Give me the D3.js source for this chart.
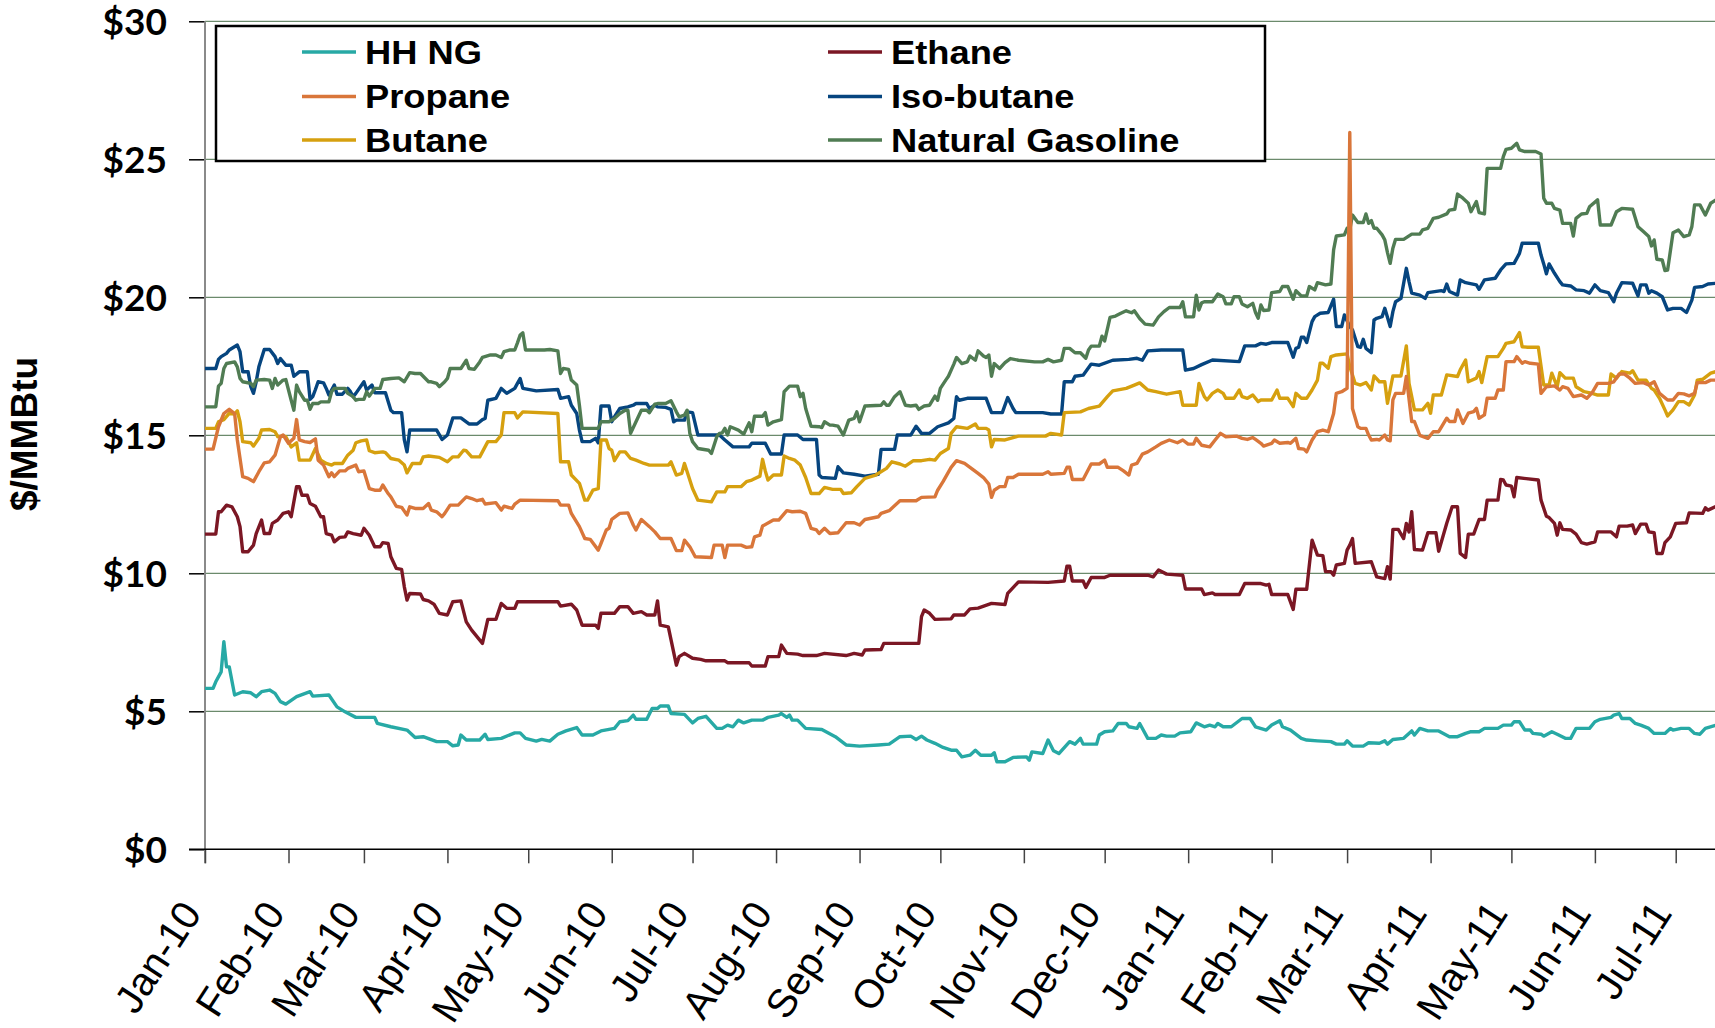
<!DOCTYPE html>
<html lang="en">
<head>
    <meta charset="UTF-8">
    <title>NGL and Henry Hub prices</title>
    <script src="https://d3js.org/d3.v7.min.js"></script>
    <style>
        html, body { margin: 0; padding: 0; background: #ffffff; }
        svg { display: block; }
        .ytick text { font-family: Lato, "Open Sans", sans-serif; font-weight: 700; font-size: 37px; fill: #000; }
        .xtick text { font-family: "Liberation Sans", Arial, sans-serif; font-size: 40px; fill: #000; }
        .legend text { font-family: "Liberation Sans", Arial, sans-serif; font-weight: 700; font-size: 33px; fill: #000; }
        .ytitle { font-family: "Liberation Sans", Arial, sans-serif; font-weight: 700; font-size: 37px; }
    </style>
</head>
<body>
<svg id="chart" width="1715" height="1028"></svg>
<script>
    // series names / colours (legend order, row by row)
    var seriesNames = ["HH NG", "Ethane", "Propane", "Iso-butane", "Butane", "Natural Gasoline"];
    var seriesColors = ["#27A9A5", "#7B1724", "#D9763A", "#06457F", "#D6A00F", "#507C53"];
    var yTicks = [0, 5, 10, 15, 20, 25, 30];

    // daily prices, $/MMBtu
    var hhng = [["2010-01-01",5.83],["2010-01-04",5.83],["2010-01-05",6.07],["2010-01-07",6.43],["2010-01-08",7.52],["2010-01-09",6.61],["2010-01-10",6.61],["2010-01-12",5.59],["2010-01-15",5.71],["2010-01-18",5.67],["2010-01-20",5.53],["2010-01-22",5.71],["2010-01-25",5.77],["2010-01-27",5.65],["2010-01-29",5.35],["2010-01-31",5.26],["2010-02-04",5.53],["2010-02-09",5.71],["2010-02-10",5.55],["2010-02-16",5.59],["2010-02-19",5.16],["2010-02-22",4.98],["2010-02-26",4.78],["2010-03-05",4.78],["2010-03-06",4.56],["2010-03-11",4.44],["2010-03-17",4.32],["2010-03-20",4.05],["2010-03-23",4.08],["2010-03-28",3.90],["2010-04-01",3.90],["2010-04-03",3.75],["2010-04-05",3.78],["2010-04-06",4.14],["2010-04-08",3.96],["2010-04-13",3.96],["2010-04-15",4.17],["2010-04-16",3.98],["2010-04-21",4.02],["2010-04-26",4.22],["2010-04-28",4.22],["2010-04-30",4.02],["2010-05-04",3.92],["2010-05-06",3.98],["2010-05-09",3.92],["2010-05-12",4.17],["2010-05-15",4.29],["2010-05-19",4.41],["2010-05-21",4.14],["2010-05-25",4.14],["2010-05-28",4.29],["2010-06-02",4.38],["2010-06-04",4.62],["2010-06-07",4.66],["2010-06-09",4.86],["2010-06-10",4.71],["2010-06-14",4.71],["2010-06-16",5.10],["2010-06-18",5.10],["2010-06-19",5.19],["2010-06-22",5.19],["2010-06-23",4.92],["2010-06-28",4.89],["2010-07-01",4.58],["2010-07-03",4.74],["2010-07-06",4.82],["2010-07-10",4.38],["2010-07-12",4.38],["2010-07-14",4.50],["2010-07-16",4.44],["2010-07-18",4.68],["2010-07-20",4.58],["2010-07-23",4.68],["2010-07-27",4.68],["2010-07-29",4.78],["2010-08-02",4.86],["2010-08-03",4.92],["2010-08-05",4.78],["2010-08-06",4.86],["2010-08-07",4.68],["2010-08-09",4.68],["2010-08-12",4.38],["2010-08-18",4.34],["2010-08-23",4.08],["2010-08-27",3.78],["2010-09-01",3.74],["2010-09-08",3.78],["2010-09-12",3.81],["2010-09-16",4.08],["2010-09-20",4.10],["2010-09-22",3.98],["2010-09-24",4.10],["2010-09-26",3.96],["2010-09-29",3.84],["2010-10-02",3.69],["2010-10-05",3.59],["2010-10-07",3.59],["2010-10-09",3.35],["2010-10-12",3.41],["2010-10-14",3.59],["2010-10-16",3.41],["2010-10-20",3.41],["2010-10-21",3.50],["2010-10-22",3.17],["2010-10-25",3.17],["2010-10-28",3.33],["2010-11-02",3.35],["2010-11-03",3.23],["2010-11-04",3.53],["2010-11-08",3.47],["2010-11-10",3.96],["2010-11-12",3.57],["2010-11-14",3.47],["2010-11-18",3.90],["2010-11-20",3.81],["2010-11-22",4.02],["2010-11-23",3.81],["2010-11-28",3.81],["2010-11-29",4.14],["2010-12-01",4.26],["2010-12-04",4.29],["2010-12-06",4.56],["2010-12-09",4.56],["2010-12-10",4.44],["2010-12-13",4.38],["2010-12-14",4.56],["2010-12-17",4.02],["2010-12-20",4.02],["2010-12-22",4.14],["2010-12-24",4.10],["2010-12-27",4.10],["2010-12-29",4.22],["2011-01-02",4.26],["2011-01-04",4.58],["2011-01-07",4.44],["2011-01-09",4.50],["2011-01-11",4.44],["2011-01-12",4.56],["2011-01-14",4.44],["2011-01-17",4.44],["2011-01-21",4.74],["2011-01-24",4.74],["2011-01-26",4.44],["2011-01-30",4.32],["2011-02-01",4.50],["2011-02-04",4.66],["2011-02-05",4.44],["2011-02-08",4.32],["2011-02-12",4.02],["2011-02-14",3.96],["2011-02-18",3.93],["2011-02-23",3.90],["2011-02-25",3.81],["2011-02-28",3.81],["2011-03-01",3.93],["2011-03-03",3.74],["2011-03-07",3.74],["2011-03-09",3.86],["2011-03-13",3.84],["2011-03-15",3.93],["2011-03-16",3.81],["2011-03-18",3.98],["2011-03-22",4.02],["2011-03-25",4.29],["2011-03-26",4.14],["2011-03-28",4.38],["2011-03-31",4.29],["2011-04-04",4.29],["2011-04-08",4.08],["2011-04-11",4.08],["2011-04-14",4.20],["2011-04-16",4.26],["2011-04-19",4.26],["2011-04-21",4.38],["2011-04-26",4.38],["2011-04-28",4.50],["2011-05-01",4.50],["2011-05-02",4.62],["2011-05-04",4.62],["2011-05-06",4.32],["2011-05-08",4.32],["2011-05-09",4.20],["2011-05-12",4.17],["2011-05-13",4.10],["2011-05-16",4.26],["2011-05-18",4.17],["2011-05-21",4.02],["2011-05-23",4.02],["2011-05-25",4.38],["2011-05-30",4.38],["2011-06-01",4.62],["2011-06-03",4.71],["2011-06-07",4.78],["2011-06-08",4.86],["2011-06-10",4.92],["2011-06-11",4.74],["2011-06-14",4.74],["2011-06-16",4.56],["2011-06-18",4.50],["2011-06-21",4.38],["2011-06-23",4.20],["2011-06-27",4.20],["2011-06-29",4.38],["2011-06-30",4.32],["2011-07-03",4.38],["2011-07-06",4.38],["2011-07-08",4.20],["2011-07-10",4.17],["2011-07-12",4.38],["2011-07-16",4.50]];

    var ethane = [["2010-01-01",11.42],["2010-01-05",11.42],["2010-01-06",12.23],["2010-01-07",12.23],["2010-01-09",12.47],["2010-01-11",12.41],["2010-01-13",12.05],["2010-01-14",11.69],["2010-01-15",10.78],["2010-01-17",10.78],["2010-01-19",11.02],["2010-01-20",11.44],["2010-01-22",11.93],["2010-01-23",11.44],["2010-01-25",11.44],["2010-01-26",11.81],["2010-01-28",11.93],["2010-01-30",12.17],["2010-02-01",12.23],["2010-02-02",12.05],["2010-02-04",13.14],["2010-02-05",13.14],["2010-02-06",12.83],["2010-02-08",12.83],["2010-02-09",12.53],["2010-02-11",12.43],["2010-02-13",12.05],["2010-02-14",12.05],["2010-02-15",11.44],["2010-02-17",11.38],["2010-02-18",11.14],["2010-02-20",11.30],["2010-02-22",11.32],["2010-02-23",11.50],["2010-02-25",11.44],["2010-02-28",11.38],["2010-03-01",11.63],["2010-03-03",11.38],["2010-03-05",10.96],["2010-03-07",10.96],["2010-03-08",11.11],["2010-03-10",11.08],["2010-03-11",10.60],["2010-03-13",10.18],["2010-03-15",10.14],["2010-03-16",9.51],["2010-03-17",9.03],["2010-03-18",9.27],["2010-03-22",9.25],["2010-03-23",9.05],["2010-03-25",9.00],["2010-03-27",8.88],["2010-03-29",8.55],["2010-04-01",8.49],["2010-04-03",8.97],["2010-04-06",9.00],["2010-04-08",8.24],["2010-04-10",7.94],["2010-04-14",7.46],["2010-04-16",8.33],["2010-04-19",8.33],["2010-04-21",8.91],["2010-04-23",8.73],["2010-04-26",8.73],["2010-04-27",8.97],["2010-05-12",8.97],["2010-05-13",8.81],["2010-05-17",8.88],["2010-05-19",8.67],["2010-05-21",8.12],["2010-05-26",8.12],["2010-05-27",8.00],["2010-05-28",8.55],["2010-06-02",8.55],["2010-06-04",8.79],["2010-06-07",8.79],["2010-06-09",8.55],["2010-06-12",8.61],["2010-06-14",8.49],["2010-06-17",8.49],["2010-06-18",9.00],["2010-06-19",8.12],["2010-06-22",8.06],["2010-06-25",6.67],["2010-06-26",6.98],["2010-06-28",7.10],["2010-07-01",6.92],["2010-07-04",6.88],["2010-07-06",6.83],["2010-07-13",6.83],["2010-07-14",6.76],["2010-07-22",6.76],["2010-07-23",6.64],["2010-07-28",6.64],["2010-07-29",6.98],["2010-08-02",6.98],["2010-08-03",7.40],["2010-08-05",7.10],["2010-08-09",7.07],["2010-08-11",7.02],["2010-08-16",7.02],["2010-08-19",7.10],["2010-08-27",7.02],["2010-08-30",7.10],["2010-09-02",7.04],["2010-09-03",7.22],["2010-09-09",7.24],["2010-09-10",7.46],["2010-09-23",7.46],["2010-09-24",8.43],["2010-09-25",8.67],["2010-09-27",8.55],["2010-09-29",8.33],["2010-10-05",8.35],["2010-10-06",8.49],["2010-10-10",8.49],["2010-10-12",8.71],["2010-10-15",8.74],["2010-10-20",8.91],["2010-10-25",8.87],["2010-10-26",9.27],["2010-10-30",9.69],["2010-11-10",9.67],["2010-11-16",9.72],["2010-11-17",10.26],["2010-11-18",10.26],["2010-11-19",9.72],["2010-11-23",9.72],["2010-11-24",9.49],["2010-11-26",9.85],["2010-12-01",9.85],["2010-12-03",9.93],["2010-12-17",9.93],["2010-12-19",9.87],["2010-12-21",10.12],["2010-12-24",9.97],["2010-12-30",9.93],["2010-12-31",9.43],["2011-01-06",9.43],["2011-01-07",9.23],["2011-01-10",9.29],["2011-01-11",9.23],["2011-01-20",9.23],["2011-01-22",9.63],["2011-01-28",9.63],["2011-01-30",9.57],["2011-01-31",9.60],["2011-02-01",9.23],["2011-02-07",9.23],["2011-02-09",8.69],["2011-02-10",9.42],["2011-02-14",9.42],["2011-02-16",11.20],["2011-02-18",10.66],["2011-02-20",10.64],["2011-02-21",10.06],["2011-02-23",10.06],["2011-02-24",9.93],["2011-02-25",10.30],["2011-02-28",10.36],["2011-03-01",10.84],["2011-03-02",11.02],["2011-03-03",11.26],["2011-03-04",10.36],["2011-03-10",10.42],["2011-03-12",9.87],["2011-03-15",9.81],["2011-03-16",10.24],["2011-03-17",9.79],["2011-03-18",11.59],["2011-03-20",11.59],["2011-03-22",11.26],["2011-03-23",11.81],["2011-03-24",11.50],["2011-03-25",12.23],["2011-03-26",10.86],["2011-03-29",10.84],["2011-03-31",11.47],["2011-04-03",11.47],["2011-04-04",10.80],["2011-04-07",11.81],["2011-04-09",12.41],["2011-04-11",12.41],["2011-04-12",10.72],["2011-04-14",10.57],["2011-04-15",11.42],["2011-04-17",11.42],["2011-04-19",11.95],["2011-04-21",11.95],["2011-04-22",12.65],["2011-04-26",12.65],["2011-04-27",13.40],["2011-04-28",13.38],["2011-04-29",13.20],["2011-05-01",13.16],["2011-05-02",12.77],["2011-05-03",13.47],["2011-05-11",13.38],["2011-05-12",12.65],["2011-05-14",12.07],["2011-05-15",12.02],["2011-05-17",11.81],["2011-05-18",11.38],["2011-05-19",11.83],["2011-05-20",11.59],["2011-05-23",11.57],["2011-05-25",11.42],["2011-05-27",11.11],["2011-05-29",11.06],["2011-06-01",11.14],["2011-06-02",11.50],["2011-06-07",11.50],["2011-06-09",11.32],["2011-06-10",11.71],["2011-06-13",11.71],["2011-06-15",11.75],["2011-06-16",11.44],["2011-06-18",11.78],["2011-06-20",11.78],["2011-06-21",11.50],["2011-06-23",11.47],["2011-06-24",10.72],["2011-06-26",10.72],["2011-06-27",11.11],["2011-06-29",11.32],["2011-07-01",11.81],["2011-07-05",11.83],["2011-07-06",12.19],["2011-07-11",12.17],["2011-07-12",12.37],["2011-07-13",12.29],["2011-07-16",12.43]];

    var propane = [["2010-01-01",14.50],["2010-01-04",14.50],["2010-01-06",15.31],["2010-01-08",15.79],["2010-01-10",15.94],["2010-01-12",15.79],["2010-01-13",14.83],["2010-01-15",13.50],["2010-01-17",13.44],["2010-01-18",13.38],["2010-01-19",13.32],["2010-01-21",13.68],["2010-01-23",14.00],["2010-01-25",14.04],["2010-01-27",14.28],["2010-01-29",14.95],["2010-01-30",15.01],["2010-02-01",14.71],["2010-02-03",14.89],["2010-02-04",15.57],["2010-02-05",14.83],["2010-02-07",14.77],["2010-02-09",14.74],["2010-02-11",14.87],["2010-02-12",14.10],["2010-02-14",13.92],["2010-02-16",13.50],["2010-02-17",13.64],["2010-02-18",13.50],["2010-02-20",13.71],["2010-02-22",13.71],["2010-02-23",13.80],["2010-02-26",13.92],["2010-02-27",13.68],["2010-03-01",13.71],["2010-03-03",13.07],["2010-03-05",13.01],["2010-03-07",13.01],["2010-03-08",13.20],["2010-03-10",12.89],["2010-03-11",12.77],["2010-03-13",12.43],["2010-03-15",12.39],["2010-03-17",12.11],["2010-03-18",12.41],["2010-03-20",12.35],["2010-03-23",12.35],["2010-03-25",12.53],["2010-03-26",12.29],["2010-03-28",12.23],["2010-03-30",12.05],["2010-03-31",12.17],["2010-04-02",12.47],["2010-04-05",12.47],["2010-04-08",12.77],["2010-04-10",12.71],["2010-04-12",12.63],["2010-04-14",12.68],["2010-04-15",12.51],["2010-04-19",12.56],["2010-04-21",12.29],["2010-04-22",12.43],["2010-04-25",12.35],["2010-04-26",12.51],["2010-04-28",12.65],["2010-05-12",12.63],["2010-05-13",12.47],["2010-05-16",12.47],["2010-05-17",12.17],["2010-05-20",11.69],["2010-05-22",11.26],["2010-05-24",11.23],["2010-05-27",10.84],["2010-05-28",11.08],["2010-05-30",11.57],["2010-05-31",11.63],["2010-06-01",11.95],["2010-06-04",12.17],["2010-06-07",12.19],["2010-06-09",11.75],["2010-06-10",11.57],["2010-06-12",11.95],["2010-06-15",11.69],["2010-06-17",11.50],["2010-06-19",11.26],["2010-06-23",11.26],["2010-06-25",10.82],["2010-06-27",10.82],["2010-06-28",11.20],["2010-06-30",10.96],["2010-07-02",10.60],["2010-07-08",10.57],["2010-07-09",11.02],["2010-07-12",11.02],["2010-07-13",10.57],["2010-07-14",11.02],["2010-07-19",11.02],["2010-07-21",10.94],["2010-07-23",10.96],["2010-07-24",11.32],["2010-07-26",11.38],["2010-07-27",11.71],["2010-07-31",11.93],["2010-08-02",11.93],["2010-08-05",12.27],["2010-08-07",12.23],["2010-08-10",12.25],["2010-08-12",12.17],["2010-08-14",11.63],["2010-08-16",11.57],["2010-08-17",11.44],["2010-08-19",11.63],["2010-08-21",11.44],["2010-08-24",11.47],["2010-08-27",11.83],["2010-08-30",11.83],["2010-09-01",11.75],["2010-09-03",11.95],["2010-09-08",12.05],["2010-09-09",12.17],["2010-09-12",12.27],["2010-09-16",12.63],["2010-09-22",12.63],["2010-09-24",12.75],["2010-09-29",12.77],["2010-09-30",13.01],["2010-10-02",13.32],["2010-10-05",13.84],["2010-10-07",14.08],["2010-10-10",13.98],["2010-10-12",13.84],["2010-10-15",13.62],["2010-10-17",13.47],["2010-10-19",13.23],["2010-10-20",12.75],["2010-10-21",13.01],["2010-10-23",13.14],["2010-10-25",13.14],["2010-10-26",13.47],["2010-10-28",13.47],["2010-10-30",13.59],["2010-11-08",13.59],["2010-11-10",13.68],["2010-11-11",13.59],["2010-11-16",13.62],["2010-11-17",13.84],["2010-11-18",13.84],["2010-11-19",13.40],["2010-11-23",13.40],["2010-11-26",13.96],["2010-11-29",13.96],["2010-12-01",14.10],["2010-12-02",13.84],["2010-12-06",13.84],["2010-12-08",13.71],["2010-12-10",13.56],["2010-12-11",13.92],["2010-12-13",13.98],["2010-12-15",14.32],["2010-12-17",14.40],["2010-12-20",14.58],["2010-12-22",14.71],["2010-12-25",14.83],["2010-12-28",14.73],["2010-12-30",14.83],["2011-01-01",14.68],["2011-01-03",14.68],["2011-01-04",14.89],["2011-01-06",14.64],["2011-01-09",14.58],["2011-01-11",14.83],["2011-01-13",15.07],["2011-01-15",14.95],["2011-01-19",14.97],["2011-01-21",14.89],["2011-01-23",14.85],["2011-01-25",14.92],["2011-01-26",14.85],["2011-01-28",14.71],["2011-01-29",14.61],["2011-02-01",14.71],["2011-02-02",14.83],["2011-02-04",14.71],["2011-02-07",14.74],["2011-02-08",14.71],["2011-02-10",14.89],["2011-02-11",14.52],["2011-02-13",14.50],["2011-02-14",14.40],["2011-02-16",14.83],["2011-02-18",15.13],["2011-02-20",15.19],["2011-02-22",15.13],["2011-02-24",15.79],["2011-02-25",16.52],["2011-02-27",16.58],["2011-02-28",16.64],["2011-03-01",16.70],["2011-03-02",25.97],["2011-03-03",15.97],["2011-03-05",15.31],["2011-03-06",15.25],["2011-03-08",15.25],["2011-03-09",15.01],["2011-03-10",14.83],["2011-03-12",14.85],["2011-03-13",14.83],["2011-03-15",15.01],["2011-03-16",14.83],["2011-03-17",14.80],["2011-03-18",16.28],["2011-03-19",16.52],["2011-03-22",16.52],["2011-03-23",17.13],["2011-03-25",15.50],["2011-03-26",15.50],["2011-03-28",15.00],["2011-03-31",14.89],["2011-04-02",15.13],["2011-04-04",15.13],["2011-04-07",15.62],["2011-04-08",15.50],["2011-04-10",15.50],["2011-04-11",15.92],["2011-04-13",15.43],["2011-04-15",15.80],["2011-04-17",15.86],["2011-04-18",15.98],["2011-04-19",15.62],["2011-04-21",15.74],["2011-04-22",16.34],["2011-04-25",16.34],["2011-04-26",16.64],["2011-04-28",16.64],["2011-04-29",17.67],["2011-05-02",17.67],["2011-05-03",17.85],["2011-05-05",17.61],["2011-05-06",17.67],["2011-05-08",17.61],["2011-05-11",17.58],["2011-05-12",16.52],["2011-05-14",16.76],["2011-05-17",16.79],["2011-05-19",16.64],["2011-05-20",16.76],["2011-05-22",16.70],["2011-05-24",16.40],["2011-05-27",16.46],["2011-05-29",16.34],["2011-05-31",16.55],["2011-06-02",16.88],["2011-06-06",16.88],["2011-06-08",16.94],["2011-06-10",17.22],["2011-06-12",17.22],["2011-06-14",17.07],["2011-06-16",16.88],["2011-06-19",16.91],["2011-06-21",16.82],["2011-06-23",16.94],["2011-06-25",16.52],["2011-06-28",16.28],["2011-06-30",16.28],["2011-07-02",16.52],["2011-07-04",16.50],["2011-07-06",16.43],["2011-07-08",16.52],["2011-07-09",16.91],["2011-07-12",16.91],["2011-07-14",17.00],["2011-07-16",17.00]];

    var isobutane = [["2010-01-01",17.42],["2010-01-05",17.42],["2010-01-06",17.75],["2010-01-07",17.85],["2010-01-09",17.97],["2010-01-10",18.09],["2010-01-13",18.27],["2010-01-14",18.03],["2010-01-15",17.30],["2010-01-17",17.30],["2010-01-18",16.76],["2010-01-19",16.52],["2010-01-20",16.94],["2010-01-21",17.48],["2010-01-23",18.11],["2010-01-25",18.11],["2010-01-27",17.85],["2010-01-28",17.60],["2010-01-29",17.78],["2010-01-31",17.54],["2010-02-02",17.54],["2010-02-03",17.14],["2010-02-05",17.30],["2010-02-08",17.30],["2010-02-09",16.30],["2010-02-10",16.40],["2010-02-11",16.66],["2010-02-12",16.94],["2010-02-14",16.90],["2010-02-15",16.70],["2010-02-16",16.46],["2010-02-18",16.82],["2010-02-19",16.49],["2010-02-21",16.49],["2010-02-23",16.70],["2010-02-24",16.58],["2010-02-25",16.40],["2010-02-26",16.52],["2010-03-01",16.94],["2010-03-02",16.64],["2010-03-04",16.82],["2010-03-05",16.54],["2010-03-09",16.54],["2010-03-11",15.91],["2010-03-12",15.82],["2010-03-15",15.82],["2010-03-16",14.83],["2010-03-17",14.40],["2010-03-18",15.19],["2010-03-28",15.19],["2010-03-30",14.85],["2010-04-01",15.01],["2010-04-03",15.63],["2010-04-06",15.63],["2010-04-09",15.41],["2010-04-12",15.41],["2010-04-14",15.57],["2010-04-15",15.61],["2010-04-16",16.27],["2010-04-19",16.34],["2010-04-21",16.70],["2010-04-23",16.52],["2010-04-26",16.70],["2010-04-27",16.88],["2010-04-28",17.06],["2010-04-29",16.70],["2010-05-04",16.61],["2010-05-12",16.66],["2010-05-13",16.34],["2010-05-16",16.40],["2010-05-17",16.09],["2010-05-19",15.79],["2010-05-20",15.19],["2010-05-21",14.77],["2010-05-24",14.77],["2010-05-26",14.89],["2010-05-27",14.73],["2010-05-28",16.06],["2010-05-31",16.06],["2010-06-01",15.49],["2010-06-02",15.67],["2010-06-04",15.97],["2010-06-07",16.03],["2010-06-09",16.09],["2010-06-10",16.15],["2010-06-14",16.15],["2010-06-15",15.97],["2010-06-17",16.09],["2010-06-18",16.03],["2010-06-21",16.01],["2010-06-23",15.94],["2010-06-24",15.49],["2010-06-25",15.55],["2010-06-28",15.55],["2010-06-29",15.85],["2010-07-01",15.82],["2010-07-03",15.01],["2010-07-11",15.01],["2010-07-13",14.83],["2010-07-16",14.58],["2010-07-22",14.58],["2010-07-23",14.71],["2010-07-28",14.71],["2010-07-30",14.32],["2010-08-03",14.32],["2010-08-04",15.01],["2010-08-09",15.01],["2010-08-11",14.85],["2010-08-16",14.85],["2010-08-17",13.56],["2010-08-18",13.47],["2010-08-23",13.44],["2010-08-24",13.86],["2010-08-26",13.64],["2010-08-30",13.59],["2010-09-03",13.52],["2010-09-08",13.59],["2010-09-09",14.49],["2010-09-14",14.49],["2010-09-15",15.01],["2010-09-20",15.01],["2010-09-22",15.33],["2010-09-24",15.07],["2010-09-27",15.07],["2010-09-30",15.31],["2010-10-04",15.45],["2010-10-06",15.61],["2010-10-07",16.40],["2010-10-08",16.27],["2010-10-11",16.34],["2010-10-18",16.34],["2010-10-20",15.82],["2010-10-24",15.82],["2010-10-26",16.37],["2010-10-28",15.97],["2010-10-29",15.82],["2010-11-08",15.82],["2010-11-11",15.77],["2010-11-15",15.77],["2010-11-16",16.94],["2010-11-19",16.94],["2010-11-20",17.14],["2010-11-23",17.18],["2010-11-26",17.58],["2010-11-29",17.54],["2010-12-04",17.72],["2010-12-10",17.75],["2010-12-13",17.79],["2010-12-15",17.72],["2010-12-17",18.06],["2010-12-22",18.09],["2010-12-30",18.09],["2010-12-31",17.36],["2011-01-03",17.42],["2011-01-06",17.56],["2011-01-10",17.73],["2011-01-20",17.67],["2011-01-22",18.24],["2011-01-26",18.24],["2011-01-28",18.33],["2011-01-30",18.30],["2011-02-01",18.36],["2011-02-07",18.36],["2011-02-09",17.83],["2011-02-10",18.15],["2011-02-11",18.19],["2011-02-12",18.55],["2011-02-13",18.55],["2011-02-14",18.36],["2011-02-16",19.12],["2011-02-17",19.30],["2011-02-19",19.42],["2011-02-22",19.45],["2011-02-24",19.93],["2011-02-25",18.94],["2011-02-27",18.94],["2011-02-28",19.36],["2011-03-02",18.94],["2011-03-03",18.82],["2011-03-05",18.21],["2011-03-06",18.19],["2011-03-07",18.48],["2011-03-08",18.15],["2011-03-10",17.99],["2011-03-11",19.18],["2011-03-12",19.24],["2011-03-14",19.30],["2011-03-15",19.60],["2011-03-17",18.94],["2011-03-18",19.48],["2011-03-19",19.84],["2011-03-21",19.96],["2011-03-23",21.05],["2011-03-24",20.57],["2011-03-25",20.15],["2011-03-28",20.08],["2011-03-30",19.96],["2011-03-31",20.17],["2011-04-05",20.24],["2011-04-06",20.21],["2011-04-07",20.48],["2011-04-08",20.21],["2011-04-11",20.08],["2011-04-12",20.63],["2011-04-14",20.53],["2011-04-18",20.45],["2011-04-19",20.29],["2011-04-21",20.63],["2011-04-25",20.69],["2011-04-27",20.99],["2011-04-29",21.21],["2011-05-02",21.23],["2011-05-04",21.59],["2011-05-05",21.96],["2011-05-11",21.96],["2011-05-12",21.53],["2011-05-13",21.21],["2011-05-14",20.85],["2011-05-15",21.21],["2011-05-17",20.87],["2011-05-19",20.57],["2011-05-20",20.45],["2011-05-23",20.41],["2011-05-25",20.27],["2011-05-28",20.24],["2011-05-30",20.15],["2011-06-01",20.45],["2011-06-03",20.24],["2011-06-06",20.17],["2011-06-08",19.84],["2011-06-09",20.15],["2011-06-11",20.53],["2011-06-15",20.51],["2011-06-17",20.05],["2011-06-18",20.45],["2011-06-20",20.45],["2011-06-21",20.15],["2011-06-22",20.24],["2011-06-24",20.15],["2011-06-26",20.02],["2011-06-28",19.54],["2011-06-30",19.60],["2011-07-03",19.60],["2011-07-05",19.45],["2011-07-07",19.90],["2011-07-08",20.36],["2011-07-11",20.39],["2011-07-13",20.48],["2011-07-16",20.51]];

    var butane = [["2010-01-01",15.25],["2010-01-05",15.25],["2010-01-06",15.49],["2010-01-08",15.57],["2010-01-10",15.79],["2010-01-12",15.77],["2010-01-13",15.89],["2010-01-14",15.49],["2010-01-15",14.77],["2010-01-18",14.73],["2010-01-19",14.61],["2010-01-21",14.89],["2010-01-22",15.19],["2010-01-25",15.21],["2010-01-27",15.13],["2010-01-28",14.95],["2010-01-30",14.97],["2010-01-31",14.95],["2010-02-02",14.58],["2010-02-04",14.73],["2010-02-05",14.10],["2010-02-09",14.10],["2010-02-11",14.52],["2010-02-13",14.10],["2010-02-15",13.98],["2010-02-17",13.92],["2010-02-18",13.98],["2010-02-21",13.98],["2010-02-23",14.28],["2010-02-25",14.46],["2010-02-26",14.73],["2010-02-28",14.80],["2010-03-02",14.83],["2010-03-03",14.44],["2010-03-05",14.37],["2010-03-08",14.40],["2010-03-09",14.37],["2010-03-11",14.16],["2010-03-14",14.10],["2010-03-16",13.92],["2010-03-17",13.64],["2010-03-19",13.98],["2010-03-22",13.98],["2010-03-23",14.22],["2010-03-25",14.25],["2010-03-29",14.20],["2010-04-01",14.04],["2010-04-03",14.22],["2010-04-05",14.22],["2010-04-07",14.46],["2010-04-08",14.44],["2010-04-10",14.22],["2010-04-13",14.22],["2010-04-16",14.77],["2010-04-19",14.77],["2010-04-21",15.01],["2010-04-22",15.82],["2010-04-26",15.82],["2010-04-27",15.63],["2010-04-29",15.85],["2010-05-12",15.79],["2010-05-13",14.04],["2010-05-16",14.04],["2010-05-17",13.56],["2010-05-20",13.26],["2010-05-22",12.65],["2010-05-23",12.65],["2010-05-25",13.01],["2010-05-27",13.07],["2010-05-28",14.83],["2010-05-30",14.83],["2010-05-31",14.52],["2010-06-01",14.46],["2010-06-02",14.08],["2010-06-04",14.40],["2010-06-06",14.40],["2010-06-08",14.16],["2010-06-10",14.10],["2010-06-13",13.98],["2010-06-15",13.92],["2010-06-22",13.92],["2010-06-23",14.04],["2010-06-25",13.56],["2010-06-27",13.62],["2010-06-28",13.98],["2010-06-29",13.68],["2010-07-01",13.07],["2010-07-03",12.65],["2010-07-08",12.59],["2010-07-10",12.95],["2010-07-13",12.95],["2010-07-14",13.14],["2010-07-19",13.14],["2010-07-21",13.32],["2010-07-23",13.38],["2010-07-26",13.52],["2010-07-27",14.13],["2010-07-28",13.71],["2010-07-29",13.38],["2010-07-31",13.56],["2010-08-03",13.56],["2010-08-04",14.25],["2010-08-06",14.16],["2010-08-08",14.10],["2010-08-10",13.92],["2010-08-12",13.47],["2010-08-14",12.89],["2010-08-17",12.89],["2010-08-19",13.11],["2010-08-22",13.04],["2010-08-25",13.04],["2010-08-26",12.89],["2010-08-29",12.92],["2010-08-31",13.14],["2010-09-03",13.44],["2010-09-07",13.56],["2010-09-11",13.80],["2010-09-13",14.04],["2010-09-16",13.96],["2010-09-18",13.88],["2010-09-21",14.08],["2010-09-24",14.08],["2010-09-27",14.13],["2010-09-29",14.10],["2010-10-01",14.34],["2010-10-04",14.52],["2010-10-05",15.07],["2010-10-07",15.31],["2010-10-11",15.25],["2010-10-14",15.41],["2010-10-15",15.25],["2010-10-18",15.25],["2010-10-19",15.19],["2010-10-20",14.58],["2010-10-21",14.85],["2010-10-25",14.83],["2010-10-28",14.92],["2010-10-30",14.97],["2010-11-09",14.97],["2010-11-11",15.07],["2010-11-15",15.01],["2010-11-16",15.82],["2010-11-22",15.85],["2010-11-25",15.97],["2010-11-29",16.06],["2010-12-02",16.40],["2010-12-04",16.61],["2010-12-09",16.70],["2010-12-12",16.82],["2010-12-14",16.90],["2010-12-17",16.64],["2010-12-20",16.58],["2010-12-24",16.49],["2010-12-29",16.58],["2010-12-30",16.09],["2011-01-04",16.09],["2011-01-05",16.88],["2011-01-07",16.40],["2011-01-08",16.28],["2011-01-10",16.52],["2011-01-12",16.64],["2011-01-14",16.52],["2011-01-15",16.34],["2011-01-18",16.34],["2011-01-20",16.64],["2011-01-21",16.40],["2011-01-23",16.34],["2011-01-25",16.46],["2011-01-27",16.22],["2011-01-28",16.28],["2011-02-01",16.28],["2011-02-03",16.64],["2011-02-04",16.34],["2011-02-07",16.34],["2011-02-09",16.04],["2011-02-10",16.52],["2011-02-12",16.34],["2011-02-14",16.34],["2011-02-16",16.64],["2011-02-18",17.00],["2011-02-19",17.61],["2011-02-20",17.61],["2011-02-22",17.43],["2011-02-23",17.85],["2011-02-25",17.91],["2011-03-01",17.95],["2011-03-02",17.49],["2011-03-04",16.88],["2011-03-06",16.82],["2011-03-08",16.91],["2011-03-10",16.64],["2011-03-11",17.15],["2011-03-13",16.94],["2011-03-15",16.94],["2011-03-16",16.16],["2011-03-18",17.15],["2011-03-21",17.15],["2011-03-23",18.24],["2011-03-24",16.88],["2011-03-26",15.92],["2011-03-29",15.92],["2011-03-31",16.16],["2011-04-01",15.80],["2011-04-02",16.46],["2011-04-05",16.46],["2011-04-07",17.19],["2011-04-11",17.13],["2011-04-12",17.37],["2011-04-14",17.73],["2011-04-15",16.94],["2011-04-18",17.07],["2011-04-19",17.31],["2011-04-20",16.91],["2011-04-22",17.85],["2011-04-26",17.85],["2011-04-28",18.15],["2011-04-29",18.33],["2011-05-02",18.39],["2011-05-04",18.72],["2011-05-05",18.21],["2011-05-07",18.19],["2011-05-11",18.19],["2011-05-13",16.82],["2011-05-15",16.82],["2011-05-16",17.25],["2011-05-18",16.76],["2011-05-19",17.27],["2011-05-21",17.07],["2011-05-24",17.07],["2011-05-25",16.76],["2011-05-28",16.58],["2011-05-31",16.52],["2011-06-02",16.46],["2011-06-06",16.46],["2011-06-07",17.22],["2011-06-09",17.07],["2011-06-11",17.31],["2011-06-14",17.25],["2011-06-15",17.34],["2011-06-17",17.00],["2011-06-20",17.00],["2011-06-22",16.70],["2011-06-23",16.64],["2011-06-25",16.34],["2011-06-27",15.92],["2011-06-28",15.70],["2011-06-30",15.92],["2011-07-02",16.22],["2011-07-04",16.22],["2011-07-06",16.10],["2011-07-08",16.46],["2011-07-09",17.00],["2011-07-11",17.03],["2011-07-14",17.25],["2011-07-16",17.31]];

    var natGasoline = [["2010-01-01",16.03],["2010-01-05",16.03],["2010-01-06",16.78],["2010-01-07",16.88],["2010-01-08",17.42],["2010-01-09",17.60],["2010-01-12",17.66],["2010-01-13",17.48],["2010-01-14",17.06],["2010-01-15",16.94],["2010-01-18",16.88],["2010-01-19",16.76],["2010-01-20",17.00],["2010-01-23",17.02],["2010-01-25",17.00],["2010-01-26",16.70],["2010-01-27",17.06],["2010-01-28",16.82],["2010-01-30",17.00],["2010-01-31",17.02],["2010-02-02",16.27],["2010-02-03",15.91],["2010-02-04",16.82],["2010-02-05",16.58],["2010-02-07",16.27],["2010-02-08",16.27],["2010-02-09",15.94],["2010-02-10",16.15],["2010-02-12",16.15],["2010-02-13",16.21],["2010-02-16",16.21],["2010-02-17",16.58],["2010-02-18",16.70],["2010-02-22",16.70],["2010-02-23",16.52],["2010-02-25",16.40],["2010-02-26",16.27],["2010-02-27",16.30],["2010-03-01",16.30],["2010-03-02",16.58],["2010-03-03",16.42],["2010-03-05",16.70],["2010-03-07",16.70],["2010-03-08",17.02],["2010-03-11",17.06],["2010-03-14",17.08],["2010-03-16",16.94],["2010-03-18",17.27],["2010-03-20",17.24],["2010-03-22",17.24],["2010-03-23",17.14],["2010-03-25",16.94],["2010-03-26",16.94],["2010-03-28",16.88],["2010-03-29",16.76],["2010-03-31",16.94],["2010-04-01",17.06],["2010-04-02",17.42],["2010-04-06",17.42],["2010-04-08",17.72],["2010-04-09",17.42],["2010-04-11",17.39],["2010-04-13",17.66],["2010-04-14",17.82],["2010-04-17",17.91],["2010-04-19",17.91],["2010-04-21",17.82],["2010-04-22",18.03],["2010-04-24",18.09],["2010-04-26",18.09],["2010-04-27",18.35],["2010-04-28",18.63],["2010-04-29",18.71],["2010-04-30",18.09],["2010-05-07",18.09],["2010-05-09",18.11],["2010-05-12",18.06],["2010-05-13",17.24],["2010-05-14",17.42],["2010-05-16",17.39],["2010-05-17",17.00],["2010-05-19",16.82],["2010-05-20",16.09],["2010-05-21",15.25],["2010-05-27",15.25],["2010-05-28",15.49],["2010-05-31",15.49],["2010-06-02",15.61],["2010-06-04",15.79],["2010-06-06",15.91],["2010-06-07",15.91],["2010-06-08",15.07],["2010-06-10",15.49],["2010-06-12",15.91],["2010-06-14",15.91],["2010-06-15",15.82],["2010-06-17",16.13],["2010-06-18",16.15],["2010-06-21",16.15],["2010-06-23",16.25],["2010-06-25",15.85],["2010-06-26",15.67],["2010-06-28",15.73],["2010-06-29",15.91],["2010-06-30",15.07],["2010-07-01",14.77],["2010-07-03",14.52],["2010-07-07",14.46],["2010-07-08",14.34],["2010-07-10",14.95],["2010-07-11",15.07],["2010-07-12",15.09],["2010-07-13",15.25],["2010-07-14",15.01],["2010-07-15",15.31],["2010-07-18",15.19],["2010-07-20",15.04],["2010-07-21",15.25],["2010-07-22",15.45],["2010-07-23",15.13],["2010-07-24",15.69],["2010-07-27",15.69],["2010-07-28",15.82],["2010-07-29",15.37],["2010-07-31",15.49],["2010-08-03",15.57],["2010-08-04",16.58],["2010-08-06",16.78],["2010-08-09",16.78],["2010-08-10",16.40],["2010-08-11",16.52],["2010-08-12",15.97],["2010-08-14",15.33],["2010-08-17",15.31],["2010-08-18",15.28],["2010-08-19",15.49],["2010-08-21",15.37],["2010-08-22",15.37],["2010-08-24",15.33],["2010-08-26",15.01],["2010-08-28",15.55],["2010-08-30",15.61],["2010-08-31",15.85],["2010-09-01",15.49],["2010-09-03",16.06],["2010-09-09",16.09],["2010-09-10",16.21],["2010-09-11",16.09],["2010-09-12",16.09],["2010-09-14",16.40],["2010-09-16",16.58],["2010-09-17",16.34],["2010-09-18",16.09],["2010-09-20",16.06],["2010-09-22",16.09],["2010-09-23",15.94],["2010-09-25",16.06],["2010-09-27",16.09],["2010-09-29",16.42],["2010-09-30",16.27],["2010-10-01",16.70],["2010-10-03",17.00],["2010-10-04",17.14],["2010-10-06",17.58],["2010-10-07",17.82],["2010-10-09",17.60],["2010-10-11",17.66],["2010-10-12",17.87],["2010-10-14",17.72],["2010-10-15",18.06],["2010-10-17",17.87],["2010-10-18",17.82],["2010-10-19",17.91],["2010-10-20",17.14],["2010-10-21",17.60],["2010-10-23",17.42],["2010-10-25",17.63],["2010-10-27",17.78],["2010-10-30",17.72],["2010-11-05",17.66],["2010-11-08",17.66],["2010-11-10",17.75],["2010-11-12",17.66],["2010-11-15",17.72],["2010-11-16",18.15],["2010-11-18",18.15],["2010-11-20",17.99],["2010-11-22",17.99],["2010-11-24",17.79],["2010-11-25",18.09],["2010-11-26",18.23],["2010-11-29",18.23],["2010-11-30",18.59],["2010-12-01",18.42],["2010-12-03",19.27],["2010-12-05",19.32],["2010-12-07",19.42],["2010-12-09",19.51],["2010-12-11",19.44],["2010-12-12",19.51],["2010-12-14",19.23],["2010-12-16",19.03],["2010-12-19",18.99],["2010-12-21",19.29],["2010-12-23",19.48],["2010-12-25",19.63],["2010-12-29",19.63],["2010-12-30",19.84],["2010-12-31",19.29],["2011-01-03",19.29],["2011-01-04",20.08],["2011-01-05",19.54],["2011-01-06",19.80],["2011-01-07",19.84],["2011-01-10",19.84],["2011-01-12",20.12],["2011-01-14",20.02],["2011-01-15",19.76],["2011-01-17",19.76],["2011-01-18",20.02],["2011-01-20",20.02],["2011-01-21",19.76],["2011-01-23",19.66],["2011-01-25",19.78],["2011-01-26",19.45],["2011-01-27",19.24],["2011-01-28",19.72],["2011-01-29",19.52],["2011-01-31",19.54],["2011-02-01",20.17],["2011-02-04",20.21],["2011-02-05",20.39],["2011-02-07",20.39],["2011-02-09",19.93],["2011-02-10",20.24],["2011-02-12",20.05],["2011-02-14",20.05],["2011-02-15",20.39],["2011-02-17",20.27],["2011-02-18",20.53],["2011-02-21",20.45],["2011-02-23",20.48],["2011-02-24",21.72],["2011-02-25",22.22],["2011-02-28",22.26],["2011-03-01",22.50],["2011-03-02",22.44],["2011-03-03",22.98],["2011-03-05",22.71],["2011-03-07",22.71],["2011-03-08",23.02],["2011-03-09",22.68],["2011-03-10",22.78],["2011-03-11",22.50],["2011-03-12",22.50],["2011-03-14",22.26],["2011-03-15",22.08],["2011-03-16",21.62],["2011-03-17",21.23],["2011-03-18",21.78],["2011-03-19",22.10],["2011-03-22",22.10],["2011-03-25",22.29],["2011-03-28",22.29],["2011-03-29",22.44],["2011-03-31",22.50],["2011-04-02",22.86],["2011-04-04",22.90],["2011-04-07",23.02],["2011-04-08",23.16],["2011-04-10",23.19],["2011-04-11",23.74],["2011-04-13",23.59],["2011-04-15",23.41],["2011-04-16",23.10],["2011-04-18",23.47],["2011-04-19",23.07],["2011-04-21",23.02],["2011-04-22",24.67],["2011-04-27",24.67],["2011-04-28",25.10],["2011-04-29",25.36],["2011-05-01",25.40],["2011-05-03",25.58],["2011-05-04",25.34],["2011-05-06",25.28],["2011-05-10",25.28],["2011-05-12",25.19],["2011-05-13",23.59],["2011-05-14",23.41],["2011-05-16",23.41],["2011-05-17",23.22],["2011-05-19",23.16],["2011-05-20",22.68],["2011-05-23",22.68],["2011-05-24",22.22],["2011-05-25",22.86],["2011-05-27",23.02],["2011-05-29",23.04],["2011-05-30",23.28],["2011-06-02",23.53],["2011-06-03",22.62],["2011-06-07",22.62],["2011-06-09",23.10],["2011-06-11",23.22],["2011-06-15",23.19],["2011-06-17",22.56],["2011-06-19",22.38],["2011-06-21",22.20],["2011-06-22",21.86],["2011-06-23",22.08],["2011-06-24",21.38],["2011-06-26",21.35],["2011-06-27",20.97],["2011-06-28",20.99],["2011-06-30",22.34],["2011-07-02",22.44],["2011-07-04",22.20],["2011-07-06",22.26],["2011-07-07",22.56],["2011-07-08",23.35],["2011-07-10",23.35],["2011-07-12",22.98],["2011-07-14",23.41],["2011-07-16",23.53]];

    var seriesData = [hhng, ethane, propane, isobutane, butane, natGasoline];

    var parseDate = d3.timeParse("%Y-%m-%d");
    var series = seriesNames.map(function(name, i) {
        return {
            name: name,
            color: seriesColors[i],
            values: seriesData[i].map(function(p) { return { date: parseDate(p[0]), value: p[1] }; })
        };
    });

    // plot frame (chart runs off the right edge like the original)
    var plotLeft = 205, plotRight = 1715, plotTop = 21.3, plotBottom = 849.3;
    var dayPx = 2.6936;
    var startDate = parseDate("2010-01-01"), endDate = parseDate("2011-07-16");

    var x = d3.scaleTime()
        .domain([startDate, endDate])
        .range([plotLeft, plotLeft + d3.timeDay.count(startDate, endDate) * dayPx]);
    var y = d3.scaleLinear().domain([0, 30]).range([plotBottom, plotTop]);

    var svg = d3.select("#chart");

    svg.append("defs").append("clipPath").attr("id", "plotClip")
        .append("rect")
        .attr("x", plotLeft).attr("y", 0)
        .attr("width", plotRight - plotLeft).attr("height", plotBottom);

    // gridlines
    svg.append("g").selectAll("line")
        .data(yTicks.filter(function(d) { return d > 0; }))
        .enter().append("line")
        .attr("x1", plotLeft).attr("x2", plotRight)
        .attr("y1", function(d) { return y(d); })
        .attr("y2", function(d) { return y(d); })
        .attr("stroke", "#6B8A6C")
        .attr("stroke-width", 1.3);

    // y axis
    var yAxis = d3.axisLeft(y).tickValues(yTicks).tickSize(16).tickFormat(function(d) { return "$" + d; });
    var gy = svg.append("g").attr("class", "ytick").attr("transform", "translate(" + plotLeft + ",0)").call(yAxis);
    gy.select(".domain").remove();
    gy.selectAll(".tick line").attr("stroke", "#000").attr("stroke-width", 1.5);
    gy.selectAll(".tick text").attr("x", -38).attr("dy", "0.36em");

    svg.append("line")
        .attr("x1", plotLeft).attr("x2", plotLeft)
        .attr("y1", plotTop).attr("y2", plotBottom + 14)
        .attr("stroke", "#8A8A8A").attr("stroke-width", 2);

    // x axis
    var months = d3.timeMonth.range(startDate, parseDate("2011-07-02"));
    var xAxis = d3.axisBottom(x).tickValues(months).tickSize(14).tickFormat(d3.timeFormat("%b-%y"));
    var gx = svg.append("g").attr("class", "xtick").attr("transform", "translate(0," + plotBottom + ")").call(xAxis);
    gx.select(".domain").remove();
    gx.selectAll(".tick line").attr("stroke", "#444").attr("stroke-width", 1.5);
    gx.selectAll(".tick text")
        .attr("x", 0).attr("y", 0).attr("dy", null)
        .attr("transform", "translate(-3,64) rotate(-57)")
        .style("text-anchor", "end");

    svg.append("line")
        .attr("x1", plotLeft - 16).attr("x2", plotRight)
        .attr("y1", plotBottom).attr("y2", plotBottom)
        .attr("stroke", "#000").attr("stroke-width", 1.6);

    // y title
    svg.append("text")
        .attr("class", "ytitle")
        .attr("transform", "translate(37,434) rotate(-90)")
        .attr("text-anchor", "middle")
        .text("$/MMBtu");

    // lines, propane last so its spike sits on top
    var line = d3.line()
        .x(function(d) { return x(d.date); })
        .y(function(d) { return y(d.value); });

    var drawOrder = [0, 1, 3, 4, 5, 2];
    svg.append("g").attr("clip-path", "url(#plotClip)")
        .selectAll("path")
        .data(drawOrder.map(function(i) { return series[i]; }))
        .enter().append("path")
        .attr("d", function(d) { return line(d.values); })
        .attr("fill", "none")
        .attr("stroke", function(d) { return d.color; })
        .attr("stroke-width", 3.4)
        .attr("stroke-linejoin", "round");

    // legend
    var legend = svg.append("g").attr("class", "legend");
    legend.append("rect")
        .attr("x", 216).attr("y", 26)
        .attr("width", 1049).attr("height", 135)
        .attr("fill", "#fff").attr("stroke", "#000").attr("stroke-width", 2.5);

    var rowY = [52, 96.5, 140];
    var colLine = [302, 828];
    var colText = [365, 891];

    series.forEach(function(s, i) {
        var r = Math.floor(i / 2), c = i % 2;
        legend.append("line")
            .attr("x1", colLine[c]).attr("x2", colLine[c] + 54)
            .attr("y1", rowY[r]).attr("y2", rowY[r])
            .attr("stroke", s.color).attr("stroke-width", 3.6);
        var t = legend.append("text")
            .attr("x", colText[c]).attr("y", rowY[r] + 11.8)
            .text(s.name);
        var w = t.node().getComputedTextLength();
        t.attr("textLength", w * 1.1).attr("lengthAdjust", "spacingAndGlyphs");
    });
</script>
</body>
</html>
